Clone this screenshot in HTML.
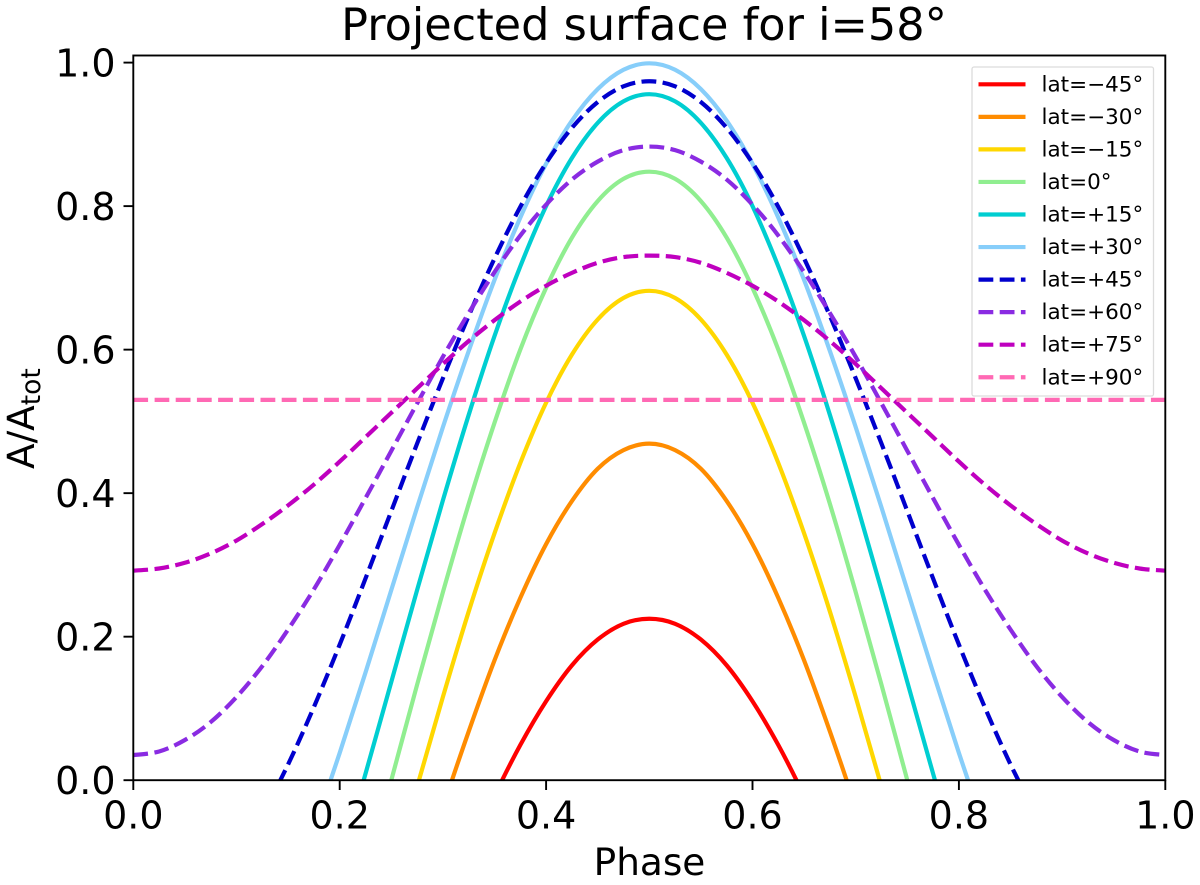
<!DOCTYPE html>
<html lang="en">
<head>
<meta charset="utf-8">
<title>Projected surface for i=58°</title>
<style>
  html, body { margin: 0; padding: 0; background: #fff; }
  svg { display: block; font-family: "DejaVu Sans", "Liberation Sans", sans-serif; }
</style>
</head>
<body>
<svg id="chart" xmlns="http://www.w3.org/2000/svg" width="1200" height="885" viewBox="0 0 1200 885">
  <defs>
    <clipPath id="plot-clip"><rect x="133.3" y="55.5" width="1032" height="724.7"></rect></clipPath>
  </defs>
  <rect x="0" y="0" width="1200" height="885" fill="#ffffff"></rect>
  <g id="series-layer" clip-path="url(#plot-clip)"></g>
  <rect x="133.3" y="55.5" width="1032" height="724.7" fill="none" stroke="#000" stroke-width="1.9"></rect>
  <g id="tick-layer"></g>
  <text x="644" y="40" font-size="44.6" text-anchor="middle" fill="#000">Projected surface for i=58°</text>
  <text x="649.5" y="875" font-size="37.4" text-anchor="middle" fill="#000">Phase</text>
  <text transform="translate(34 469) rotate(-90)" font-size="37.4" fill="#000">A/A<tspan font-size="26.5" dy="6">tot</tspan></text>
  <g id="legend-layer">
    <rect x="972" y="67" width="181.500" height="329" rx="2" ry="2" fill="#ffffff" fill-opacity="0.8" stroke="#dcdcdc" stroke-width="1.300"></rect>
  </g>
</svg>
<script>
const phases = [0,0.025,0.05,0.075,0.1,0.125,0.15,0.175,0.2,0.225,0.25,0.275,0.3,0.325,0.35,0.375,0.4,0.425,0.45,0.475,0.5,0.525,0.55,0.575,0.6,0.625,0.65,0.675,0.7,0.725,0.75,0.775,0.8,0.825,0.85,0.875,0.9,0.925,0.95,0.975,1];
const latLabels = ['lat=\u221245°','lat=\u221230°','lat=\u221215°','lat=0°','lat=+15°','lat=+30°','lat=+45°','lat=+60°','lat=+75°','lat=+90°'];
const latM45 = [null,null,null,null,null,null,null,null,null,null,null,null,null,-0.102,-0.022,0.049,0.110,0.160,0.196,0.218,0.225,0.218,0.196,0.160,0.110,0.049,-0.022,-0.102,null,null,null,null,null,null,null,null,null,null,null,null,null];
const latM30 = [null,null,null,null,null,null,null,null,null,null,null,-0.150,-0.038,0.068,0.167,0.254,0.329,0.389,0.434,0.460,0.469,0.460,0.434,0.389,0.329,0.254,0.167,0.068,-0.038,-0.150,null,null,null,null,null,null,null,null,null,null,null];
const latM15 = [null,null,null,null,null,null,null,null,null,null,-0.137,-0.009,0.116,0.235,0.344,0.442,0.526,0.593,0.642,0.672,0.682,0.672,0.642,0.593,0.526,0.442,0.344,0.235,0.116,-0.009,-0.137,null,null,null,null,null,null,null,null,null,null];
const lat0 = [null,null,null,null,null,null,null,null,null,-0.133,0,0.133,0.262,0.385,0.498,0.600,0.686,0.756,0.807,0.838,0.848,0.838,0.807,0.756,0.686,0.600,0.498,0.385,0.262,0.133,0,-0.133,null,null,null,null,null,null,null,null,null];
const latP15 = [null,null,null,null,null,null,null,null,-0.116,0.009,0.137,0.265,0.390,0.509,0.619,0.716,0.800,0.867,0.916,0.946,0.956,0.946,0.916,0.867,0.800,0.716,0.619,0.509,0.390,0.265,0.137,0.009,-0.116,null,null,null,null,null,null,null,null];
const latP30 = [null,null,null,null,null,null,null,-0.068,0.038,0.150,0.265,0.380,0.492,0.598,0.697,0.784,0.859,0.919,0.963,0.990,0.999,0.990,0.963,0.919,0.859,0.784,0.697,0.598,0.492,0.380,0.265,0.150,0.038,-0.068,null,null,null,null,null,null,null];
const latP45 = [null,null,null,null,null,-0.049,0.022,0.102,0.189,0.281,0.375,0.469,0.560,0.647,0.727,0.799,0.860,0.909,0.945,0.967,0.974,0.967,0.945,0.909,0.860,0.799,0.727,0.647,0.560,0.469,0.375,0.281,0.189,0.102,0.022,-0.049,null,null,null,null,null];
const latP60 = [0.035,0.040,0.056,0.081,0.116,0.159,0.210,0.266,0.328,0.393,0.459,0.525,0.590,0.651,0.708,0.759,0.802,0.837,0.862,0.878,0.883,0.878,0.862,0.837,0.802,0.759,0.708,0.651,0.590,0.525,0.459,0.393,0.328,0.266,0.210,0.159,0.116,0.081,0.056,0.040,0.035];
const latP75 = [0.292,0.295,0.303,0.316,0.334,0.357,0.383,0.412,0.444,0.478,0.512,0.546,0.580,0.612,0.641,0.667,0.689,0.707,0.721,0.729,0.731,0.729,0.721,0.707,0.689,0.667,0.641,0.612,0.580,0.546,0.512,0.478,0.444,0.412,0.383,0.357,0.334,0.316,0.303,0.295,0.292];
const latP90 = [0.530,0.530,0.530,0.530,0.530,0.530,0.530,0.530,0.530,0.530,0.530,0.530,0.530,0.530,0.530,0.530,0.530,0.530,0.530,0.530,0.530,0.530,0.530,0.530,0.530,0.530,0.530,0.530,0.530,0.530,0.530,0.530,0.530,0.530,0.530,0.530,0.530,0.530,0.530,0.530,0.530];
const xTickValues = [0,0.2,0.4,0.6,0.8,1];
const yTickValues = [0,0.2,0.4,0.6,0.8,1];
const tickLabels = ['0.0','0.2','0.4','0.6','0.8','1.0'];

const seriesValues = [latM45,latM30,latM15,lat0,latP15,latP30,latP45,latP60,latP75,latP90];
const seriesColors = ['#ff0000','#ff8c00','#ffd700','#90ee90','#00ced1','#87cefa','#0000cd','#8a2be2','#bf00bf','#ff69b4'];
const seriesDashed = [false,false,false,false,false,false,true,true,true,true];
const seriesDashOffsets = [0,0,0,0,0,0,6.6,0,0,0];
const seriesNames = ['lat-minus-45','lat-minus-30','lat-minus-15','lat-0','lat-plus-15','lat-plus-30','lat-plus-45','lat-plus-60','lat-plus-75','lat-plus-90'];

const NS = 'http://www.w3.org/2000/svg';
const xAxis = v => 133.3 + v * 1032;
const yAxis = v => 780.2 - v * 717.6;

function smoothPath(px) {
  let d = 'M' + px[0][0].toFixed(2) + ' ' + px[0][1].toFixed(2);
  for (let i = 0; i < px.length - 1; i++) {
    const p0 = px[Math.max(i - 1, 0)];
    const p1 = px[i];
    const p2 = px[i + 1];
    const p3 = px[Math.min(i + 2, px.length - 1)];
    const c1x = p1[0] + (p2[0] - p0[0]) / 6;
    const c1y = p1[1] + (p2[1] - p0[1]) / 6;
    const c2x = p2[0] - (p3[0] - p1[0]) / 6;
    const c2y = p2[1] - (p3[1] - p1[1]) / 6;
    d += 'C' + c1x.toFixed(2) + ' ' + c1y.toFixed(2) + ' ' + c2x.toFixed(2) + ' ' + c2y.toFixed(2) + ' ' + p2[0].toFixed(2) + ' ' + p2[1].toFixed(2);
  }
  return d;
}

const seriesLayer = document.getElementById('series-layer');
seriesValues.forEach(function (values, s) {
  const pts = [];
  values.forEach(function (v, i) {
    if (v !== null) pts.push([xAxis(phases[i]), yAxis(v)]);
  });
  const path = document.createElementNS(NS, 'path');
  
  
  path.setAttribute('d', smoothPath(pts));
  path.setAttribute('fill', 'none');
  path.setAttribute('stroke', seriesColors[s]);
  path.setAttribute('stroke-width', '4.2');
  if (seriesDashed[s]) {
    path.setAttribute('stroke-dasharray', '14.8 6.4');
    path.setAttribute('stroke-dashoffset', seriesDashOffsets[s]);
  }
  seriesLayer.appendChild(path);
});

const tickLayer = document.getElementById('tick-layer');
function addTick(x1, y1, x2, y2, name) {
  const tick = document.createElementNS(NS, 'line');
  
  
  tick.setAttribute('x1', x1);
  tick.setAttribute('y1', y1);
  tick.setAttribute('x2', x2);
  tick.setAttribute('y2', y2);
  tick.setAttribute('stroke', '#000');
  tick.setAttribute('stroke-width', '1.9');
  tickLayer.appendChild(tick);
}
function addTickLabel(x, y, anchor, text, name) {
  const label = document.createElementNS(NS, 'text');
  
  
  label.setAttribute('x', x);
  label.setAttribute('y', y);
  label.setAttribute('text-anchor', anchor);
  label.setAttribute('font-size', '38');
  label.setAttribute('fill', '#000');
  label.textContent = text;
  tickLayer.appendChild(label);
}
xTickValues.forEach(function (v, i) {
  const x = xAxis(v);
  addTick(x, 780.2, x, 790, 'x-tick-' + tickLabels[i]);
  addTickLabel(x, 828.5, 'middle', tickLabels[i], 'x-tick-label-' + tickLabels[i]);
});
yTickValues.forEach(function (v, i) {
  const y = yAxis(v);
  addTick(123.500, y, 133.3, y, 'y-tick-' + tickLabels[i]);
  addTickLabel(115.5, y + 14, 'end', tickLabels[i], 'y-tick-label-' + tickLabels[i]);
});

const legendLayer = document.getElementById('legend-layer');
latLabels.forEach(function (text, s) {
  const rowY = 84.3 + s * 32.55;
  const key = document.createElementNS(NS, 'line');
  
  
  key.setAttribute('x1', 978.500);
  key.setAttribute('y1', rowY);
  key.setAttribute('x2', 1025.500);
  key.setAttribute('y2', rowY);
  key.setAttribute('stroke', seriesColors[s]);
  key.setAttribute('stroke-width', '4.2');
  if (seriesDashed[s]) key.setAttribute('stroke-dasharray', '14.8 6.4');
  legendLayer.appendChild(key);
  const label = document.createElementNS(NS, 'text');
  
  
  label.setAttribute('x', 1041.500);
  label.setAttribute('y', rowY + 7);
  label.setAttribute('font-size', '21.500');
  label.setAttribute('fill', '#000');
  label.textContent = text;
  legendLayer.appendChild(label);
});
</script>
</body>
</html>
